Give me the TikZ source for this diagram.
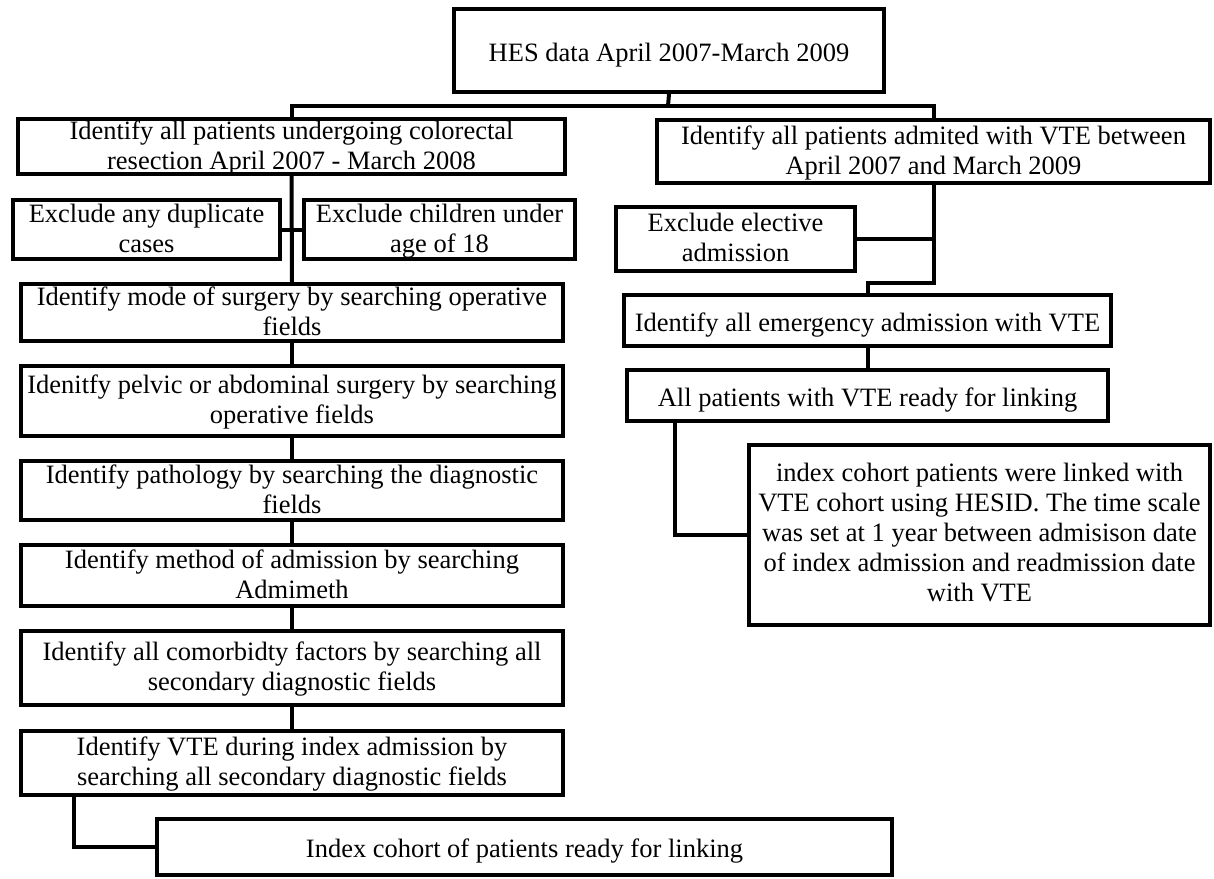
\documentclass[tikz,border=0pt]{standalone}
\usepackage{fontspec}
\setmainfont{Liberation Serif}
\usepackage{tikz}

\begin{document}
\begin{tikzpicture}[x=1pt,y=-1pt]

	\tikzset{box/.style = {draw, line width=4pt, align=center, inner sep=0pt,
		font=\fontsize{26.5}{30}\selectfont, text depth=0pt, text height=45pt}}
	\tikzset{oneline/.style = {text height=21pt}}
	\tikzset{conn/.style = {line width=4pt}}
	\useasboundingbox (0,0) rectangle (1214,878);
	% vertices
	\node[box, oneline, minimum width=430, minimum height=83] (hes) at (669,50.5) {HES data April 2007-March 2009};
	\node[box, minimum width=547, minimum height=55] (colres) at (291.5,146.5) {Identify all patients undergoing colorectal\\resection April 2007 - March 2008};
	\node[box, minimum width=267, minimum height=59] (dup) at (146.5,229.5) {Exclude any duplicate\\cases};
	\node[box, minimum width=271, minimum height=59] (child) at (439.5,229.5) {Exclude children under\\age of 18};
	\node[box, minimum width=542, minimum height=57] (mode) at (292,312.5) {Identify mode of surgery by searching operative\\fields};
	\node[box, minimum width=542, minimum height=70] (pelvic) at (292,401) {Idenitfy pelvic or abdominal surgery by searching\\operative fields};
	\node[box, minimum width=542, minimum height=59] (patho) at (292,490.5) {Identify pathology by searching the diagnostic\\fields};
	\node[box, minimum width=542, minimum height=61] (admeth) at (292,575.5) {Identify method of admission by searching\\Admimeth};
	\node[box, minimum width=542, minimum height=74] (comorb) at (292,668) {Identify all comorbidty factors by searching all\\secondary diagnostic fields};
	\node[box, minimum width=542, minimum height=64] (vtein) at (292,763) {Identify VTE during index admission by\\searching all secondary diagnostic fields};
	\node[box, oneline, minimum width=735, minimum height=56] (index) at (524.5,847) {Index cohort of patients ready for linking};

	\node[box, minimum width=553, minimum height=63] (vteadm) at (933.5,151.5) {Identify all patients admited with VTE between\\April 2007 and March 2009};
	\node[box, minimum width=239, minimum height=64] (elect) at (735.5,239) {Exclude elective\\admission};
	\node[box, oneline, minimum width=487, minimum height=51] (emerg) at (867.5,320.5) {Identify all emergency admission with VTE};
	\node[box, oneline, minimum width=481, minimum height=51] (ready) at (867.5,395.5) {All patients with VTE ready for linking};
	\node[box, text height=132pt, minimum width=461, minimum height=180] (link) at (979.5,535) {index cohort patients were linked with\\VTE cohort using HESID. The time scale\\was set at 1 year between admisison date\\of index admission and readmission date\\with VTE};
	\coordinate (split) at (668,106);
	%edges
	\draw[conn] (hes.south) -- (split);
	\draw[conn] (split) -| (colres.north);
	\draw[conn] (split) -| (vteadm.north);

	\draw[conn] (colres) -- (mode);
	\draw[conn] (dup.east) -- (child.west);
	\draw[conn] (mode) -- (pelvic);
	\draw[conn] (pelvic) -- (patho);
	\draw[conn] (patho) -- (admeth);
	\draw[conn] (admeth) -- (comorb);
	\draw[conn] (comorb) -- (vtein);
	\draw[conn] (vtein.south west) ++(55,0) |- (index.west);

	\draw[conn] (vteadm.south) -- ++(0,98) -| (emerg.north);
	\draw[conn] (elect.east) -- (elect.east -| vteadm.south);
	\draw[conn] (emerg) -- (ready);
	\draw[conn] (ready.south west) ++(50,0) |- (link.west);
\end{tikzpicture}
\end{document}
